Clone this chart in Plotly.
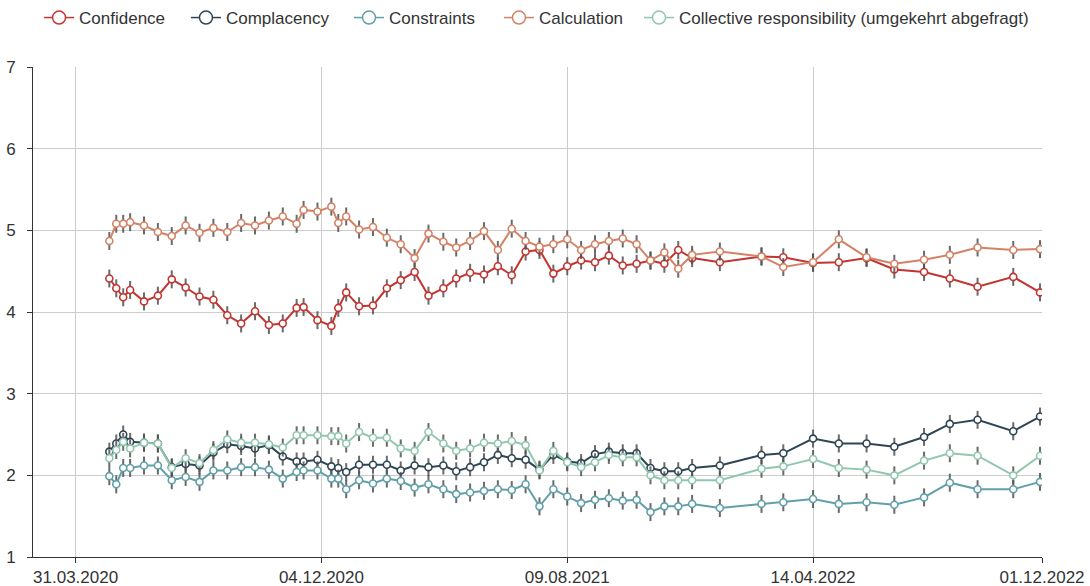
import plotly.graph_objects as go

# Survey waves (field dates)
wave_dates = [
    "2020-05-04", "2020-05-11", "2020-05-18", "2020-05-25", "2020-06-08", "2020-06-22",
    "2020-07-06", "2020-07-20", "2020-08-03", "2020-08-17", "2020-08-31", "2020-09-14",
    "2020-09-28", "2020-10-12", "2020-10-26", "2020-11-09", "2020-11-16", "2020-11-30",
    "2020-12-14", "2020-12-21", "2020-12-29", "2021-01-11", "2021-01-25", "2021-02-08",
    "2021-02-22", "2021-03-08", "2021-03-22", "2021-04-06", "2021-04-19", "2021-05-03",
    "2021-05-17", "2021-05-31", "2021-06-14", "2021-06-28", "2021-07-12", "2021-07-26",
    "2021-08-09", "2021-08-23", "2021-09-06", "2021-09-20", "2021-10-04", "2021-10-18",
    "2021-11-01", "2021-11-15", "2021-11-29", "2021-12-13", "2022-01-10", "2022-02-21",
    "2022-03-15", "2022-04-14", "2022-05-10", "2022-06-07", "2022-07-05", "2022-08-04",
    "2022-08-30", "2022-09-27", "2022-11-02", "2022-11-29",
]

confidence = [
    4.41, 4.29, 4.18, 4.27, 4.13, 4.20, 4.40, 4.30, 4.19, 4.15, 3.96, 3.86,
    4.01, 3.84, 3.86, 4.05, 4.06, 3.90, 3.83, 4.05, 4.24, 4.07, 4.08, 4.29,
    4.39, 4.49, 4.20, 4.29, 4.41, 4.48, 4.46, 4.56, 4.45, 4.74, 4.76, 4.47,
    4.56, 4.63, 4.61, 4.69, 4.57, 4.59, 4.63, 4.59, 4.76, 4.66, 4.61, 4.68,
    4.67, 4.60, 4.61, 4.66, 4.52, 4.49, 4.41, 4.31, 4.43, 4.24,
]
complacency = [
    2.29, 2.39, 2.50, 2.41, 2.40, 2.39, 2.10, 2.14, 2.12, 2.28, 2.38, 2.36,
    2.33, 2.37, 2.23, 2.17, 2.17, 2.19, 2.11, 2.09, 2.04, 2.13, 2.13, 2.13,
    2.06, 2.12, 2.10, 2.12, 2.05, 2.10, 2.16, 2.25, 2.21, 2.19, 2.07, 2.25,
    2.17, 2.15, 2.26, 2.29, 2.27, 2.27, 2.09, 2.05, 2.05, 2.09, 2.12, 2.25,
    2.27, 2.45, 2.39, 2.39, 2.35, 2.47, 2.63, 2.68, 2.54, 2.72,
]
constraints = [
    1.99, 1.89, 2.09, 2.09, 2.12, 2.12, 1.94, 1.98, 1.92, 2.06, 2.06, 2.10,
    2.10, 2.07, 1.96, 2.04, 2.06, 2.06, 1.96, 1.96, 1.83, 1.94, 1.90, 1.96,
    1.93, 1.85, 1.89, 1.83, 1.77, 1.79, 1.81, 1.83, 1.82, 1.89, 1.62, 1.83,
    1.74, 1.66, 1.70, 1.72, 1.69, 1.70, 1.55, 1.62, 1.62, 1.65, 1.60, 1.65,
    1.67, 1.71, 1.65, 1.67, 1.64, 1.73, 1.91, 1.83, 1.83, 1.92,
]
calculation = [
    4.87, 5.08, 5.08, 5.10, 5.06, 4.98, 4.93, 5.06, 4.97, 5.03, 4.98, 5.09,
    5.06, 5.12, 5.17, 5.08, 5.25, 5.23, 5.29, 5.09, 5.17, 5.01, 5.04, 4.91,
    4.83, 4.66, 4.96, 4.86, 4.79, 4.87, 4.99, 4.76, 5.02, 4.87, 4.80, 4.83,
    4.89, 4.76, 4.83, 4.87, 4.90, 4.83, 4.63, 4.73, 4.53, 4.70, 4.74, 4.68,
    4.55, 4.61, 4.89, 4.67, 4.59, 4.64, 4.70, 4.79, 4.76, 4.77,
]
collective = [
    2.21, 2.31, 2.41, 2.33, 2.40, 2.39, 2.09, 2.21, 2.15, 2.31, 2.44, 2.40,
    2.40, 2.38, 2.34, 2.49, 2.49, 2.49, 2.48, 2.48, 2.39, 2.53, 2.46, 2.46,
    2.33, 2.30, 2.53, 2.39, 2.30, 2.33, 2.40, 2.39, 2.42, 2.37, 2.06, 2.30,
    2.16, 2.10, 2.16, 2.25, 2.22, 2.22, 2.00, 1.94, 1.94, 1.94, 1.94, 2.08,
    2.11, 2.20, 2.09, 2.07, 2.00, 2.18, 2.27, 2.24, 2.00, 2.24,
]

# Half-width of the confidence interval drawn around each mean
CI_HALF = 0.11

series = [
    ("Confidence", confidence, "#c23531"),
    ("Complacency", complacency, "#2f4554"),
    ("Constraints", constraints, "#61a0a8"),
    ("Calculation", calculation, "#d48265"),
    ("Collective responsibility (umgekehrt abgefragt)", collective, "#91c7ae"),
]

x_ticks = ["2020-03-31", "2020-12-04", "2021-08-09", "2022-04-14", "2022-12-01"]
x_ticktext = ["31.03.2020", "04.12.2020", "09.08.2021", "14.04.2022", "01.12.2022"]

FONT = "Liberation Sans, Arial, Helvetica, sans-serif"
TEXT = "#333333"
FS = 17

# left edge (paper x) of each legend entry
legend_x = [0.006, 0.1516, 0.3132, 0.4618, 0.6006]

fig = go.Figure()
for i, (name, vals, color) in enumerate(series):
    lg = "legend" if i == 0 else f"legend{i + 1}"
    fig.add_trace(go.Scatter(
        x=wave_dates, y=vals, name=name, mode="lines+markers",
        line=dict(color=color, width=2),
        marker=dict(symbol="circle", size=7, color="white",
                    line=dict(color=color, width=1.6)),
        error_y=dict(type="constant", value=CI_HALF, color="rgba(80,80,80,0.85)",
                     thickness=2, width=0),
        showlegend=False,
    ))
    # legend key: line with a larger hollow circle
    fig.add_trace(go.Scatter(
        x=[None], y=[None], name=name, mode="lines+markers",
        line=dict(color=color, width=1.5),
        marker=dict(symbol="circle", size=13, color="white",
                    line=dict(color=color, width=1.5)),
        legend=lg, showlegend=True,
    ))

layout_legends = {}
for i, lx in enumerate(legend_x):
    key = "legend" if i == 0 else f"legend{i + 1}"
    layout_legends[key] = dict(
        x=lx, xanchor="left", y=1.1, yanchor="middle", orientation="h",
        font=dict(family=FONT, size=FS, color=TEXT),
        bgcolor="rgba(0,0,0,0)", borderwidth=0,
    )

fig.update_layout(
    width=1090, height=586,
    margin=dict(l=33, r=48, t=67, b=29, autoexpand=False),
    paper_bgcolor="white", plot_bgcolor="white",
    font=dict(family=FONT, size=FS, color=TEXT),
    showlegend=True,
    **layout_legends,
)
fig.update_xaxes(
    type="date", range=["2020-02-17", "2022-12-01"],
    tickmode="array", tickvals=x_ticks, ticktext=x_ticktext,
    showgrid=True, gridcolor="#cccccc", gridwidth=1,
    showline=True, linecolor="#333333", linewidth=1,
    ticks="outside", ticklen=5, tickcolor="#333333",
    tickfont=dict(family=FONT, size=FS, color=TEXT),
    zeroline=False,
)
fig.update_yaxes(
    range=[1, 7], tickmode="array", tickvals=[1, 2, 3, 4, 5, 6, 7],
    showgrid=True, gridcolor="#cccccc", gridwidth=1,
    showline=True, linecolor="#333333", linewidth=1,
    ticks="outside", ticklen=5, tickcolor="#333333",
    tickfont=dict(family=FONT, size=FS, color=TEXT),
    ticklabelstandoff=8, zeroline=False,
)

fig.write_html("out.html")
